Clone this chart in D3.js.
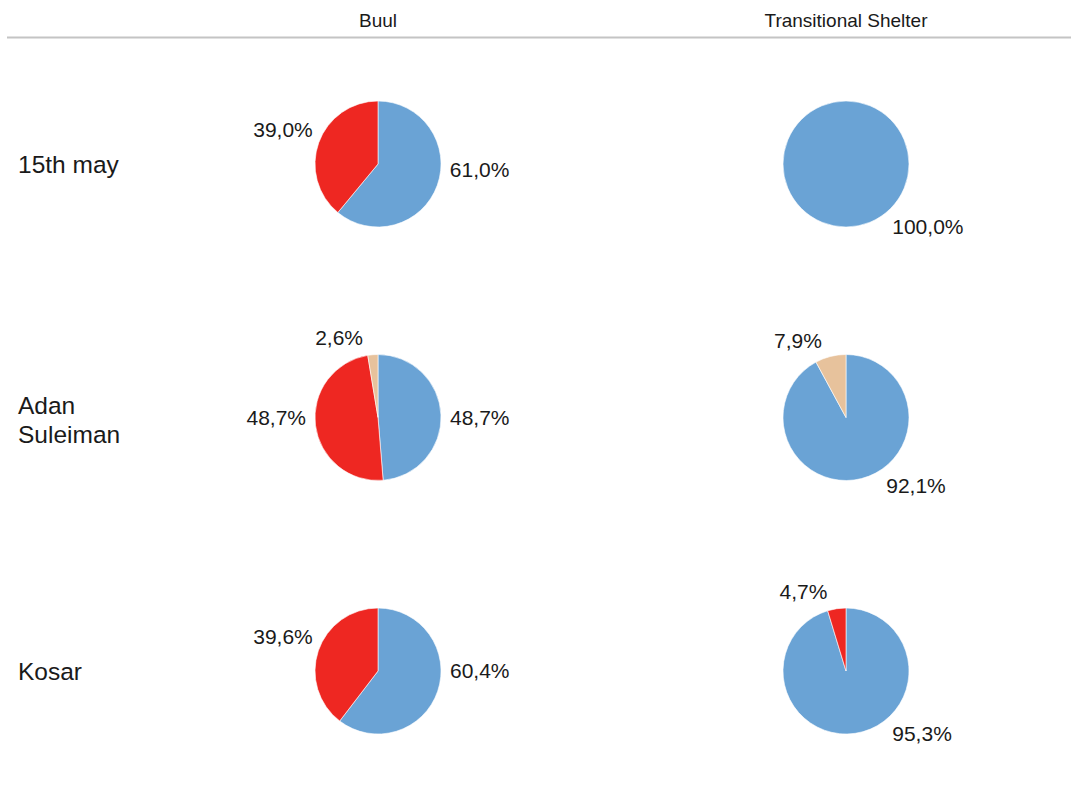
<!DOCTYPE html>
<html>
<head>
<meta charset="utf-8">
<script src="https://cdn.jsdelivr.net/npm/d3@7"></script>
<style>
  html, body { margin: 0; padding: 0; background: #ffffff; }
  svg { display: block; font-family: "Liberation Sans", Arial, sans-serif; }
</style>
</head>
<body>
<svg id="chart" width="1071" height="792"></svg>
<script>
// Locations (rows) and shelter types (columns)
const locations = ["15th may", "Adan Suleiman", "Kosar"];
const shelterTypes = ["Buul", "Transitional Shelter"];

// Three response categories, shares in percent, one triple per location
const seriesNames = ["Category 1", "Category 2", "Category 3"];
const buulShares = [
  [61.0, 39.0, 0.0],
  [48.7, 48.7, 2.6],
  [60.4, 39.6, 0.0]
];
const transitionalShares = [
  [100.0, 0.0, 0.0],
  [92.1, 0.0, 7.9],
  [95.3, 4.7, 0.0]
];

// Where each value label sits around its pie (degrees clockwise from 12 o'clock)
const buulLabelAngles = [
  [94, 295, null],
  [90, 270, 348],
  [90, 295, null]
];
const transitionalLabelAngles = [
  [140, null, null],
  [146, null, 340.5],
  [140, 345, null]
];

const sharesByType = [buulShares, transitionalShares];
const labelAnglesByType = [buulLabelAngles, transitionalLabelAngles];

const W = 1071, H = 792;
const svg = d3.select("#chart");

const color = d3.scaleOrdinal()
  .domain(seriesNames)
  .range(["#6aa3d5", "#ee2722", "#e7c29c"]);

// Column positions for the two shelter types, row positions for the locations
const x = d3.scalePoint().domain(shelterTypes).range([378, 846]);
const y = d3.scalePoint().domain(locations).range([164, 671]);

const radius = 63;
const pie = d3.pie().sort(null).value(d => d.value);
const arc = d3.arc().innerRadius(0).outerRadius(radius);

// Header row
svg.append("g").selectAll("text")
  .data(shelterTypes)
  .join("text")
  .attr("x", d => x(d))
  .attr("y", 27)
  .attr("text-anchor", "middle")
  .attr("font-size", 19)
  .attr("fill", "#1a1a1a")
  .text(d => d);

svg.append("line")
  .attr("x1", 7).attr("x2", W)
  .attr("y1", 37.5).attr("y2", 37.5)
  .attr("stroke", "#c4c4c4")
  .attr("stroke-width", 2);

// Row labels (wrapped on spaces when the name has two words of length > 4)
const rowLabels = svg.append("g");
locations.forEach(loc => {
  const words = loc === "Adan Suleiman" ? ["Adan", "Suleiman"] : [loc];
  const lineH = 29;
  const t = rowLabels.append("text")
    .attr("x", 18)
    .attr("font-size", 24.5)
    .attr("fill", "#1a1a1a");
  words.forEach((w, i) => {
    t.append("tspan")
      .attr("x", 18)
      .attr("y", y(loc) + 8.5 - (words.length - 1) * lineH / 2 + i * lineH + (words.length > 1 ? 2 : 0))
      .text(w);
  });
});

// Pies
const fmt = v => d3.format(".1f")(v).replace(".", ",") + "%";

shelterTypes.forEach((type, ci) => {
  locations.forEach((loc, ri) => {
    const values = sharesByType[ci][ri];
    const angles = labelAnglesByType[ci][ri];
    const data = seriesNames.map((name, k) => ({ name, value: values[k], k }));
    const arcs = pie(data);

    const g = svg.append("g")
      .attr("transform", `translate(${x(type)},${y(loc)})`);

    g.selectAll("path")
      .data(arcs.filter(a => a.data.value > 0))
      .join("path")
      .attr("d", arc)
      .attr("fill", a => color(a.data.name))
      .attr("stroke", "#ffffff")
      .attr("stroke-width", 0.6);

    const R = radius + 9;
    const push = 10;
    g.selectAll("text")
      .data(arcs.filter(a => a.data.value > 0))
      .join("text")
      .each(function (a) {
        const deg = angles[a.data.k];
        const phi = deg * Math.PI / 180;
        const s = Math.sin(phi), c = Math.cos(phi);
        const ax = s * R;
        const ay = -c * (R + push);
        d3.select(this)
          .attr("x", ax)
          .attr("y", ay)
          .attr("dy", "0.35em")
          .attr("text-anchor", s > 0.05 ? "start" : (s < -0.05 ? "end" : "middle"));
      })
      .attr("font-size", 21)
      .attr("fill", "#1a1a1a")
      .text(a => fmt(a.data.value));
  });
});
</script>
</body>
</html>
